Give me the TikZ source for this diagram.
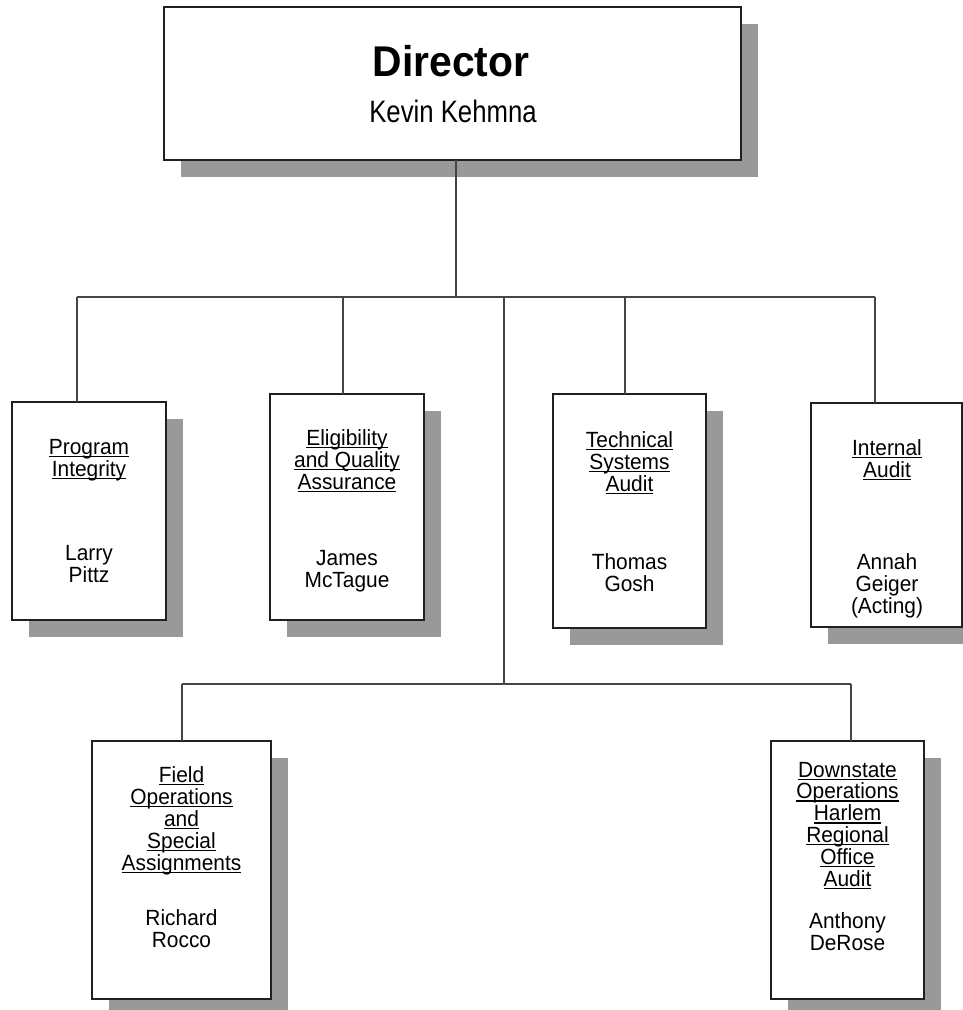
\documentclass[tikz,border=0pt]{standalone}
\usepackage{fontspec}
\setmainfont{Liberation Sans}[FakeStretch=0.95]
\newfontfamily\namefont{Liberation Sans}[FakeStretch=0.83]
\usetikzlibrary{shadows}
\definecolor{shadowgray}{HTML}{999999}
\definecolor{linegray}{HTML}{454545}
\definecolor{boxline}{HTML}{202020}
\newcommand\undl[1]{\setbox0\hbox{#1}\rlap{\rule[-3pt]{\wd0}{1.5pt}}\box0}
\begin{document}
\begin{tikzpicture}[x=1pt,y=-1pt,
  orgbox/.style={draw=boxline, line width=1.3pt, fill=white, inner sep=0pt, outer sep=0pt, anchor=north west,
    drop shadow={shadow xshift=17pt, shadow yshift=-17pt, fill=shadowgray, opacity=1}},
  conn/.style={draw=linegray, line width=1.5pt},
  txt/.style={align=center, anchor=base, inner sep=0pt, font=\fontsize{22}{22}\selectfont}]
\useasboundingbox (0,0) rectangle (963,1010);
% boxes
\node[orgbox, minimum width=577pt, minimum height=153pt] (dir) at (164,7) {};
\node[orgbox, minimum width=154pt, minimum height=218pt] (pi) at (12,402) {};
\node[orgbox, minimum width=154pt, minimum height=226pt] (eq) at (270,394) {};
\node[orgbox, minimum width=153pt, minimum height=234pt] (tsa) at (553,394) {};
\node[orgbox, minimum width=151pt, minimum height=224pt] (ia) at (811,403) {};
\node[orgbox, minimum width=179pt, minimum height=258pt] (fo) at (92,741) {};
\node[orgbox, minimum width=153pt, minimum height=258pt] (dso) at (771,741) {};
% junctions
\coordinate (j0) at (456,297);
\coordinate (jpi) at (77,297);
\coordinate (jeq) at (343,297);
\coordinate (jmid) at (504,297);
\coordinate (jtsa) at (625,297);
\coordinate (jia) at (875,297);
\coordinate (jlow) at (504,684);
\coordinate (jfo) at (182,684);
\coordinate (jdso) at (851,684);
% connectors
\draw[conn] (dir.south -| j0) -- (j0);
\draw[conn] (jpi) -- (jia);
\draw[conn] (jpi) -- (jpi |- pi.north);
\draw[conn] (jeq) -- (jeq |- eq.north);
\draw[conn] (jtsa) -- (jtsa |- tsa.north);
\draw[conn] (jia) -- (jia |- ia.north);
\draw[conn] (jmid) -- (jlow);
\draw[conn] (jfo) -- (jdso);
\draw[conn] (jfo) -- (jfo |- fo.north);
\draw[conn] (jdso) -- (jdso |- dso.north);
% texts
\node[anchor=base, inner sep=0pt, font=\fontsize{43}{46}\selectfont\bfseries] (dirt) at (451,76) {Director};
\node[anchor=base, inner sep=0pt, font=\namefont\fontsize{31}{34}\selectfont] (dirn) at (453,122) {Kevin Kehmna};
\node[txt] (pih) at (89,476) {\undl{Program}\\\undl{Integrity}};
\node[txt] (pin) at (89,582) {Larry\\Pittz};
\node[txt] (eqh) at (347,489) {\undl{Eligibility}\\\undl{and Quality}\\\undl{Assurance}};
\node[txt] (eqn) at (347,587) {James\\McTague};
\node[txt] (tsah) at (629.5,491) {\undl{Technical}\\\undl{Systems}\\\undl{Audit}};
\node[txt] (tsan) at (629.5,591) {Thomas\\Gosh};
\node[txt] (iah) at (887,477) {\undl{Internal}\\\undl{Audit}};
\node[txt] (ian) at (887,613) {Annah\\Geiger\\(Acting)};
\node[txt] (foh) at (181.5,870) {\undl{Field}\\\undl{Operations}\\\undl{and}\\\undl{Special}\\\undl{Assignments}};
\node[txt] (fon) at (181.5,947) {Richard\\Rocco};
\node[txt, font=\fontsize{22}{21.8}\selectfont] (dsoh) at (847.5,886) {\undl{Downstate}\\\undl{Operations}\\\undl{Harlem}\\\undl{Regional}\\\undl{Office}\\\undl{Audit}};
\node[txt] (dson) at (847.5,950) {Anthony\\DeRose};
\end{tikzpicture}
\end{document}
